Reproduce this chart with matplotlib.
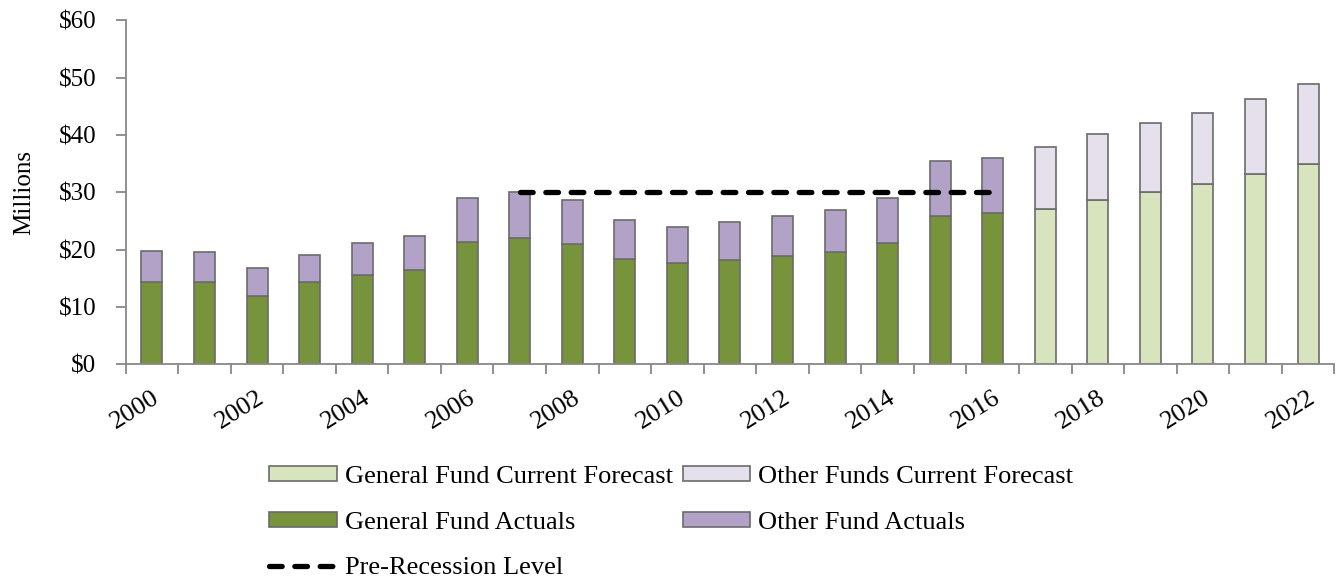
import numpy as np
import matplotlib.pyplot as plt
from matplotlib.ticker import FixedLocator, FuncFormatter

years = list(range(2000, 2023))
# general fund / other funds, millions; actuals through 2016, forecast after
general_fund = [14.4, 14.3, 11.9, 14.4, 15.5, 16.4, 21.3, 22.0, 21.0, 18.4, 17.6, 18.2,
                18.9, 19.6, 21.1, 25.9, 26.4, 27.1, 28.6, 30.1, 31.5, 33.2, 35.0]
total_funds = [19.8, 19.6, 16.7, 19.0, 21.1, 22.4, 29.0, 30.0, 28.6, 25.1, 24.0, 24.8,
               25.8, 26.9, 28.9, 35.4, 35.9, 37.9, 40.1, 42.0, 43.9, 46.2, 48.8]
last_actual = 2016
pre_recession_years = [2007, 2016]
pre_recession_level = 30.0

plt.rcParams['font.family'] = ['Liberation Serif', 'DejaVu Serif']

gf = np.array(general_fund)
other = np.array(total_funds) - gf
x = np.arange(len(years))
actual = np.array(years) <= last_actual
fc = ~actual

fig = plt.figure(figsize=(13.41, 5.78), dpi=100)
ax = fig.add_axes([0.0937, 0.370, 0.9013, 0.595])

w = 0.40
ec = '#6b6b6b'
b_gf_fc = ax.bar(x[fc], gf[fc], w, color='#d7e4bd', edgecolor=ec, lw=1.2,
                 label='General Fund Current Forecast')
b_of_fc = ax.bar(x[fc], other[fc], w, bottom=gf[fc], color='#e6e0ec', edgecolor=ec, lw=1.2,
                 label='Other Funds Current Forecast')
b_gf = ax.bar(x[actual], gf[actual], w, color='#77933c', edgecolor=ec, lw=1.2,
              label='General Fund Actuals')
b_of = ax.bar(x[actual], other[actual], w, bottom=gf[actual], color='#b3a2c7', edgecolor=ec, lw=1.2,
              label='Other Fund Actuals')

px = [years.index(y) for y in pre_recession_years]
ln, = ax.plot(px, [pre_recession_level] * 2, color='black', lw=3.8,
              dashes=(2.4, 2.4), dash_capstyle='round', label='Pre-Recession Level')

ax.set_xlim(-0.5, len(years) - 0.5)
ax.set_ylim(0, 60)
ax.set_yticks(range(0, 61, 10))
ax.yaxis.set_major_formatter(FuncFormatter(lambda v, p: f'${v:.0f}'))
ax.xaxis.set_major_locator(FixedLocator(np.arange(-0.5, len(years), 1)))
ax.xaxis.set_minor_locator(FixedLocator(x[::2]))
ax.set_xticklabels([])
ax.set_xticklabels([str(y) for y in years[::2]], minor=True, rotation=32,
                   ha='right', rotation_mode='anchor', fontsize=19)
ax.tick_params(axis='x', which='major', length=7, color='#888888', width=1.3)
ax.tick_params(axis='x', which='minor', length=0, pad=16)
ax.tick_params(axis='y', length=7, color='#888888', width=1.3, labelsize=18, pad=14)
for s in ['top', 'right']:
    ax.spines[s].set_visible(False)
for s in ['left', 'bottom']:
    ax.spines[s].set_color('#888888')
    ax.spines[s].set_linewidth(1.3)
ax.set_ylabel('Millions', fontsize=18)
ax.yaxis.set_label_coords(-0.0745, 0.5)

handles = [b_gf_fc, b_gf, ln, b_of_fc, b_of]
fig.legend(handles, [h.get_label() for h in handles], ncol=2, loc='upper left',
           bbox_to_anchor=(0.191, 0.217), frameon=False, fontsize=19,
           handlelength=2.55, handleheight=0.5, labelspacing=0.9,
           columnspacing=0.4, handletextpad=0.3, borderpad=0)

fig.savefig('out.png', dpi=100)
